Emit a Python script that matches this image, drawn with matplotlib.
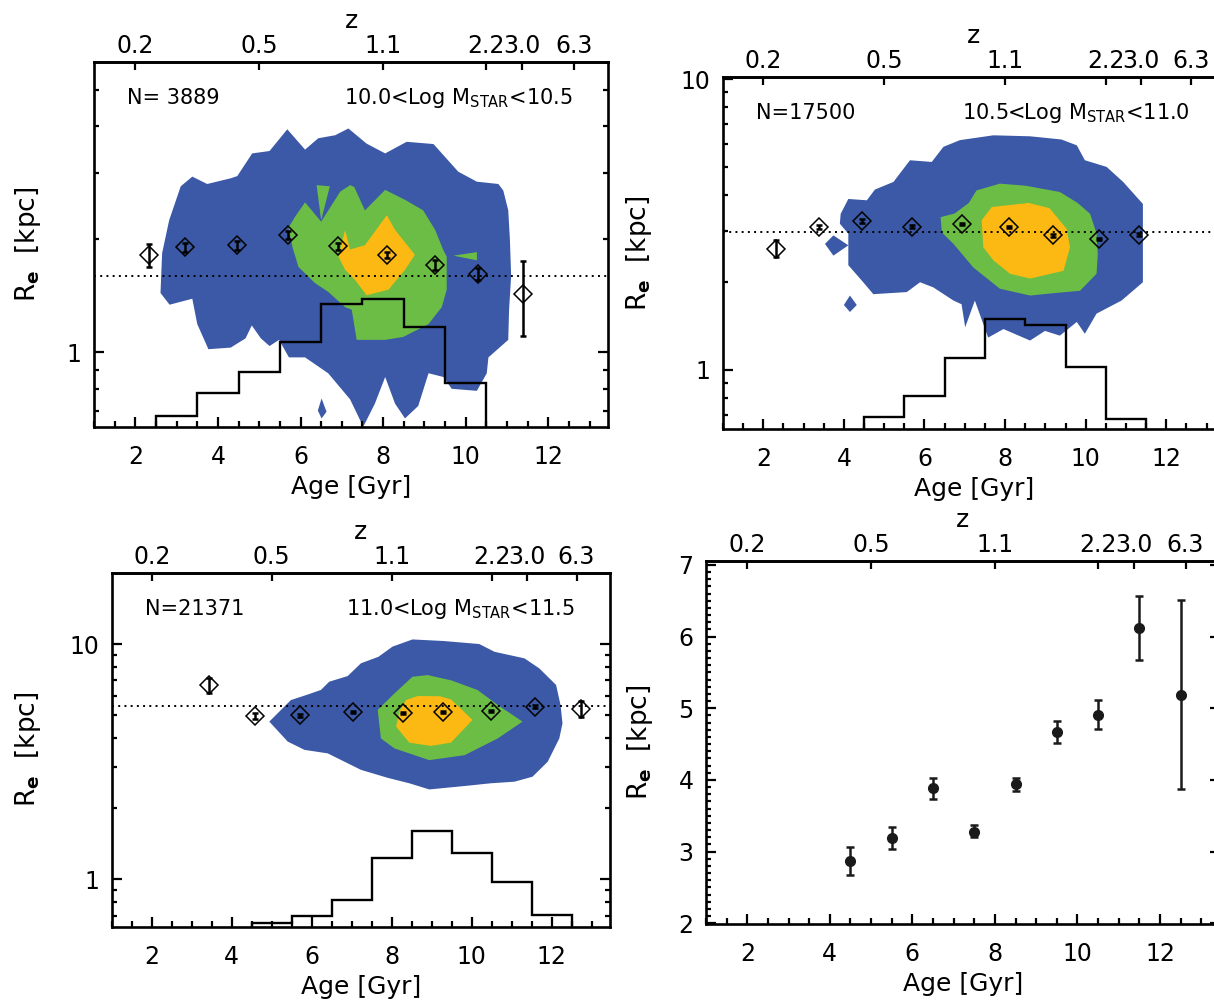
import matplotlib
matplotlib.use('Agg')
import matplotlib.pyplot as plt
from matplotlib.ticker import FixedLocator, NullFormatter, FixedFormatter, MultipleLocator
import numpy as np

plt.rcParams['font.family'] = ['DejaVu Sans']
plt.rcParams['mathtext.fontset'] = 'dejavusans'

W, H = 1214, 1000
BLUE, GREEN, YELLOW = '#3B59A6', '#6CBD45', '#FDB913'

# ---------------- shared axis data ----------------
age_ticks = [2, 4, 6, 8, 10, 12]
z_tick_age = [2.0, 5.0, 8.0, 10.5, 11.37, 12.62]
z_tick_labels = ['0.2', '0.5', '1.1', '2.2', '3.0', '6.3']
hist_edges_p1 = [2.5, 3.5, 4.5, 5.5, 6.5, 7.5, 8.5, 9.5, 10.5]
hist_edges_p2 = [4.5, 5.5, 6.5, 7.5, 8.5, 9.5, 10.5, 11.5]
hist_edges_p3 = [4.5, 5.5, 6.5, 7.5, 8.5, 9.5, 10.5, 11.5, 12.5]

# ---------------- panel 1: 10.0 < log M < 10.5 ----------------
p1_n = 'N= 3889'
p1_mass = r'10.0<Log M$_{\rm STAR}$<10.5'
p1_age = [2.32, 3.20, 4.47, 5.70, 6.90, 8.10, 9.25, 10.30, 11.38]
p1_re = [1.82, 1.905, 1.93, 2.05, 1.92, 1.82, 1.71, 1.62, 1.43]
p1_lo = [1.69, 1.85, 1.88, 2.00, 1.88, 1.79, 1.66, 1.56, 1.107]
p1_hi = [1.95, 1.96, 1.98, 2.10, 1.96, 1.85, 1.76, 1.68, 1.75]
p1_median = 1.60
p1_hist = [0.677, 0.78, 0.888, 1.063, 1.345, 1.39, 1.17, 0.827]
p1_blue = [(3.10, 2.77), (3.38, 2.94), (3.74, 2.81), (4.31, 2.91), (4.47, 2.95), (4.83, 3.39),
           (5.25, 3.44), (5.68, 3.93), (6.11, 3.47), (6.43, 3.72), (6.84, 3.79), (7.16, 3.95),
           (7.60, 3.60), (8.05, 3.39), (8.57, 3.64), (9.22, 3.59), (9.82, 3.03), (10.27, 2.85),
           (10.79, 2.81), (10.91, 2.70), (11.03, 2.39), (11.07, 2.0), (11.1, 1.6), (11.05, 1.3),
           (11.03, 1.08), (10.55, 0.97), (10.51, 0.88), (10.27, 0.79), (9.66, 0.80), (9.46, 0.86),
           (9.10, 0.88), (8.85, 0.72), (8.53, 0.667), (8.29, 0.73), (8.05, 0.86), (7.80, 0.73),
           (7.52, 0.634), (7.20, 0.75), (6.67, 0.88), (6.11, 0.97), (5.72, 0.97), (5.48, 1.08),
           (5.25, 1.04), (5.04, 1.09), (4.82, 1.18), (4.67, 1.09), (4.31, 1.03), (3.77, 1.02),
           (3.50, 1.19), (3.38, 1.39), (2.83, 1.34), (2.61, 1.44), (2.65, 1.84), (2.82, 2.25)]
p1_blue_blob = [(6.51, 0.754), (6.63, 0.695), (6.51, 0.667), (6.42, 0.70)]
p1_green = [(5.71, 2.15), (5.87, 2.30), (6.11, 2.51), (6.50, 2.23), (6.96, 2.68), (7.20, 2.79),
            (7.30, 2.76), (7.56, 2.39), (8.05, 2.71), (8.53, 2.55), (8.97, 2.39), (9.26, 2.12),
            (9.46, 1.87), (9.54, 1.80), (9.54, 1.47), (9.42, 1.32), (9.10, 1.19), (8.49, 1.10),
            (8.05, 1.08), (7.52, 1.08), (7.36, 1.08), (7.24, 1.30), (7.08, 1.32), (6.67, 1.45),
            (6.35, 1.53), (5.95, 1.69), (5.81, 1.90)]
p1_green_wedge = [(6.39, 2.79), (6.71, 2.77), (6.50, 2.25)]
p1_green_small = [(9.70, 1.81), (10.27, 1.85), (10.27, 1.76)]
p1_yellow = [(7.08, 2.12), (7.20, 1.88), (7.56, 1.93), (8.09, 2.32), (8.29, 2.12), (8.77, 1.82),
             (8.53, 1.66), (8.13, 1.47), (7.60, 1.42), (7.32, 1.56), (7.08, 1.66), (6.92, 1.80)]

# ---------------- panel 2: 10.5 < log M < 11.0 ----------------
p2_n = 'N=17500'
p2_mass = r'10.5<Log M$_{\rm STAR}$<11.0'
p2_age = [2.32, 3.38, 4.44, 5.70, 6.94, 8.10, 9.20, 10.34, 11.33]
p2_re = [2.61, 3.10, 3.25, 3.11, 3.18, 3.10, 2.90, 2.82, 2.92]
p2_lo = [2.44, 3.05, 3.21, 3.08, 3.15, 3.07, 2.87, 2.79, 2.88]
p2_hi = [2.80, 3.15, 3.29, 3.14, 3.21, 3.13, 2.93, 2.85, 2.96]
p2_median = 2.97
p2_hist = [0.689, 0.809, 1.094, 1.496, 1.43, 1.02, 0.676]
p2_blue = [(4.11, 3.87), (4.57, 3.83), (4.77, 4.17), (5.23, 4.43), (5.64, 5.26), (6.18, 5.19),
           (6.47, 5.85), (6.88, 6.17), (7.71, 6.41), (8.62, 6.36), (9.40, 6.20), (9.78, 5.92),
           (9.98, 5.26), (10.52, 4.99), (10.93, 4.43), (11.42, 3.72), (11.42, 2.00), (10.89, 1.73),
           (10.27, 1.56), (9.98, 1.33), (9.78, 1.46), (9.36, 1.31), (8.99, 1.36), (8.62, 1.26),
           (7.96, 1.38), (7.58, 1.29), (7.25, 1.73), (7.01, 1.40), (6.92, 1.68), (6.72, 1.73),
           (6.22, 1.92), (5.89, 2.00), (5.56, 1.85), (4.73, 1.82), (4.48, 2.00), (4.11, 2.29),
           (4.11, 2.94), (3.90, 3.18), (3.92, 3.44)]
p2_blue_blob1 = [(3.74, 2.90), (4.11, 2.68), (3.74, 2.47), (3.53, 2.71)]
p2_blue_blob2 = [(4.15, 1.80), (4.32, 1.67), (4.15, 1.58), (4.00, 1.67)]
p2_green = [(6.40, 3.35), (6.75, 3.45), (7.10, 3.75), (7.29, 4.14), (7.87, 4.37), (8.50, 4.30),
            (9.36, 4.09), (9.80, 3.75), (10.11, 3.44), (10.27, 2.94), (10.30, 2.50), (10.27, 2.14),
            (9.86, 1.87), (9.13, 1.83), (8.62, 1.80), (7.87, 1.90), (7.21, 2.25), (6.72, 2.71),
            (6.43, 2.97)]
p2_yellow = [(7.42, 3.27), (7.67, 3.63), (8.58, 3.75), (9.10, 3.60), (9.53, 3.05), (9.61, 2.64),
             (9.45, 2.19), (8.62, 2.06), (8.12, 2.14), (7.71, 2.38), (7.46, 2.64)]

# ---------------- panel 3: 11.0 < log M < 11.5 ----------------
p3_n = 'N=21371'
p3_mass = r'11.0<Log M$_{\rm STAR}$<11.5'
p3_age = [3.42, 4.58, 5.71, 7.04, 8.27, 9.29, 10.48, 11.57, 12.73]
p3_re = [6.70, 4.94, 4.99, 5.14, 5.11, 5.15, 5.21, 5.42, 5.28]
p3_lo = [6.21, 4.79, 4.92, 5.08, 5.06, 5.10, 5.16, 5.36, 4.88]
p3_hi = [7.14, 5.10, 5.06, 5.20, 5.16, 5.20, 5.26, 5.48, 5.74]
p3_median = 5.45
p3_hist = [0.655, 0.70, 0.817, 1.23, 1.60, 1.30, 0.97, 0.705]
p3_blue = [(4.94, 4.68), (5.48, 5.78), (5.90, 6.10), (6.23, 6.38), (6.44, 6.92), (6.90, 7.31),
           (7.23, 8.28), (7.67, 8.83), (8.02, 9.75), (8.52, 10.46), (9.30, 10.30), (10.19, 10.0),
           (10.57, 9.27), (11.32, 8.69), (11.69, 7.88), (12.11, 6.70), (12.22, 5.51), (12.27, 4.60),
           (12.19, 3.97), (11.90, 3.16), (11.52, 2.73), (11.07, 2.60), (10.48, 2.56), (9.90, 2.50),
           (8.94, 2.41), (8.44, 2.56), (7.90, 2.70), (7.23, 2.92), (6.40, 3.43), (5.82, 3.55),
           (5.40, 3.85)]
p3_green = [(7.65, 5.25), (8.07, 6.17), (8.52, 7.26), (8.90, 7.38), (9.50, 7.00), (10.15, 6.37),
            (10.65, 5.51), (11.27, 4.68), (10.65, 3.97), (9.82, 3.37), (8.94, 3.21), (8.07, 3.60),
            (7.73, 3.97)]
p3_yellow = [(8.36, 5.78), (8.65, 6.01), (9.20, 6.00), (9.48, 5.82), (10.02, 4.76), (9.48, 3.81),
             (8.98, 3.69), (8.44, 3.81), (8.11, 4.46), (8.20, 5.20)]

# ---------------- panel 4: median Re vs age ----------------
p4_age = [4.5, 5.5, 6.5, 7.5, 8.5, 9.5, 10.5, 11.5, 12.5]
p4_re = [2.87, 3.19, 3.89, 3.28, 3.94, 4.67, 4.91, 6.12, 5.19]
p4_lo = [2.67, 3.03, 3.74, 3.20, 3.85, 4.51, 4.71, 5.68, 3.87]
p4_hi = [3.06, 3.35, 4.03, 3.37, 4.03, 4.82, 5.11, 6.57, 6.51]

FS_TICK = 17
FS_LAB = 18
FS_ANN = 15

fig = plt.figure(figsize=(W / 100, H / 100), dpi=100)


def make_ax(l, t, r, b):
    return fig.add_axes([l / W, 1 - b / H, (r - l) / W, (b - t) / H])


def common(ax, box, ylab_off):
    l, t, r, b = box
    w, h = r - l, b - t
    ax.set_xlim(1.0, 13.45)
    ax.xaxis.set_major_locator(FixedLocator(age_ticks))
    ax.xaxis.set_minor_locator(MultipleLocator(0.5))
    ax.tick_params(axis='x', which='both', direction='in', top=False, bottom=True,
                   labelsize=FS_TICK, pad=13, width=1.6)
    ax.tick_params(axis='x', which='major', length=7)
    ax.tick_params(axis='x', which='minor', length=4.5)
    ax.tick_params(axis='y', which='both', direction='in', left=True, right=True,
                   labelsize=FS_TICK, pad=9, width=1.6)
    ax.tick_params(axis='y', which='major', length=7.5)
    ax.tick_params(axis='y', which='minor', length=3.8)
    for s in ax.spines.values():
        s.set_linewidth(1.9)
    ax.set_xlabel('Age [Gyr]', fontsize=FS_LAB)
    ax.xaxis.label.set_va('center')
    ax.xaxis.set_label_coords(0.5, -60 / h)
    ax.set_ylabel(r'R$_{\mathbf{e}}$  [kpc]', fontsize=FS_LAB + 1)
    ax.yaxis.label.set_va('center')
    ax.yaxis.set_label_coords(-ylab_off / w, 0.5)
    sec = ax.secondary_xaxis('top')
    sec.xaxis.set_major_locator(FixedLocator(z_tick_age))
    sec.xaxis.set_major_formatter(FixedFormatter(z_tick_labels))
    sec.xaxis.set_minor_locator(FixedLocator([]))
    sec.tick_params(axis='x', which='major', direction='in', length=6, width=1.6,
                    labelsize=FS_TICK, pad=3)
    sec.spines['top'].set_linewidth(1.9)
    sec.set_xlabel('z', fontsize=FS_LAB)
    sec.xaxis.label.set_va('center')
    sec.xaxis.set_label_coords(0.5, 1 + 41 / h, transform=ax.transAxes)
    return w, h


def density_panel(box, ylim, ylab_off, yminor, blue_polys, green_polys, yellow_polys,
                  edges, hist, age, re, lo, hi, median, ntext, mtext):
    ax = make_ax(*box)
    ax.set_yscale('log')
    ax.set_ylim(*ylim)
    w, h = common(ax, box, ylab_off)
    ax.yaxis.set_major_locator(FixedLocator([1, 10]))
    ax.yaxis.set_major_formatter(FixedFormatter(['1', '10']))
    ax.yaxis.set_minor_locator(FixedLocator(yminor))
    ax.yaxis.set_minor_formatter(NullFormatter())
    for polys, col in ((blue_polys, BLUE), (green_polys, GREEN), (yellow_polys, YELLOW)):
        for poly in polys:
            arr = np.array(poly)
            ax.fill(arr[:, 0], arr[:, 1], color=col, lw=0, zorder=1)
    ax.stairs(hist, edges, baseline=ylim[0], color='k', lw=1.7, zorder=3)
    ax.axhline(median, color='k', ls=(0, (1, 2.2)), lw=1.4, zorder=3)
    age = np.array(age); re = np.array(re)
    yerr = np.vstack([re - np.array(lo), np.array(hi) - re])
    ax.errorbar(age, re, yerr=yerr, fmt='none', ecolor='k', elinewidth=1.8,
                capsize=2.2, capthick=1.8, zorder=4)
    ax.plot(age, re, ls='none', marker='D', ms=9.5, mfc='none', mec='k', mew=1.1, zorder=5)
    ax.text(33 / w, 1 - 42.5 / h, ntext, transform=ax.transAxes, fontsize=FS_ANN,
            ha='left', va='baseline')
    ax.text(1 - 35 / w, 1 - 42.5 / h, mtext, transform=ax.transAxes, fontsize=FS_ANN,
            ha='right', va='baseline')
    return ax


density_panel((94, 61.7, 608.2, 426.7), (0.634, 5.95), 66,
              [0.7, 0.8, 0.9, 2, 3, 4, 5],
              [p1_blue, p1_blue_blob], [p1_green, p1_green_wedge, p1_green_small], [p1_yellow],
              hist_edges_p1, p1_hist, p1_age, p1_re, p1_lo, p1_hi, p1_median, p1_n, p1_mass)

density_panel((723, 76.7, 1224.7, 429), (0.625, 10.2), 84,
              [0.7, 0.8, 0.9, 2, 3, 4, 5, 6, 7, 8, 9],
              [p2_blue, p2_blue_blob1, p2_blue_blob2], [p2_green], [p2_yellow],
              hist_edges_p2, p2_hist, p2_age, p2_re, p2_lo, p2_hi, p2_median, p2_n, p2_mass)

density_panel((111.7, 572.7, 609.7, 926.7), (0.629, 20.1), 84,
              [0.7, 0.8, 0.9, 2, 3, 4, 5, 6, 7, 8, 9],
              [p3_blue], [p3_green], [p3_yellow],
              hist_edges_p3, p3_hist, p3_age, p3_re, p3_lo, p3_hi, p3_median, p3_n, p3_mass)

# panel 4
box4 = (706, 560.7, 1219.8, 924)
ax4 = make_ax(*box4)
ax4.set_ylim(1.99, 7.06)
common(ax4, box4, 66.5)
ax4.yaxis.set_major_locator(MultipleLocator(1))
ax4.yaxis.set_minor_locator(MultipleLocator(0.1))
a4 = np.array(p4_age); r4 = np.array(p4_re)
yerr4 = np.vstack([r4 - np.array(p4_lo), np.array(p4_hi) - r4])
ax4.errorbar(a4, r4, yerr=yerr4, fmt='o', color='#1a1a1a', ms=7, elinewidth=1.8,
             capsize=2.8, capthick=1.8, zorder=4)

fig.savefig('out.png', dpi=100)
